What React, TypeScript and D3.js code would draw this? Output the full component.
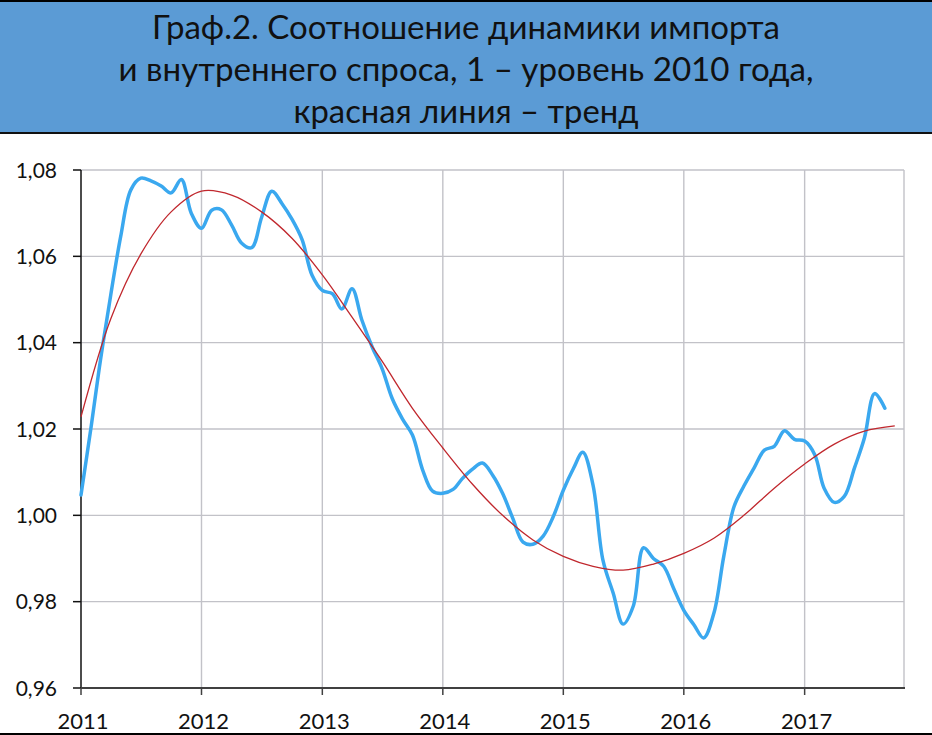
import * as d3 from "d3";

// monthly ratio, Jan 2011 .. Sep 2017 (1 = level of 2010)
const importDemandRatio = [
  1.0047, 1.0207, 1.036, 1.051, 1.0645, 1.0754, 1.0781, 1.0775, 1.0763, 1.0747, 1.0778, 1.07,
  1.0665, 1.0707, 1.0708, 1.0673, 1.0631, 1.062, 1.069, 1.0751, 1.0722, 1.0686, 1.0638, 1.0556,
  1.0521, 1.0513, 1.0478, 1.0525, 1.0452, 1.039, 1.034, 1.027, 1.0223, 1.0186, 1.0105, 1.0056,
  1.0051, 1.006, 1.0085, 1.0107, 1.0121, 1.0093, 1.0051, 0.9993, 0.9938, 0.9933, 0.9952, 0.9996,
  1.0058, 1.0109, 1.0146, 1.007, 0.9896, 0.982, 0.9748, 0.979, 0.9925, 0.99, 0.9882, 0.9831,
  0.978, 0.9746, 0.9716, 0.9773, 0.9905, 1.002, 1.0068, 1.011, 1.0151, 1.016, 1.0196, 1.0176,
  1.0172, 1.014, 1.0063, 1.003, 1.0044, 1.011, 1.0179, 1.0282, 1.0248
];

// trend line, read every 3 months from Jan 2011
const trendValues = [
  1.0228, 1.0455, 1.0605, 1.0703, 1.0751, 1.0742, 1.0703, 1.0642, 1.0557, 1.0459,
  1.0357, 1.0248, 1.0156, 1.0072, 1.0, 0.9943, 0.9905, 0.9882, 0.9873, 0.9887,
  0.9912, 0.9947, 1.0, 1.0063, 1.0119, 1.0165, 1.0195, 1.0207
];

const yearTicks = [2011, 2012, 2013, 2014, 2015, 2016, 2017];
const yTicks = [0.96, 0.98, 1.0, 1.02, 1.04, 1.06, 1.08];

const titleLines = [
  "Граф.2. Соотношение динамики импорта",
  "и внутреннего спроса, 1 – уровень 2010 года,",
  "красная линия – тренд"
];

const width = 932;
const height = 735;
const plot = { left: 81, right: 905, top: 170, bottom: 688 };
const font = "Lato, 'Open Sans', sans-serif";

export default function App() {
  const x = d3
    .scaleTime()
    .domain([new Date(2011, 0, 1), new Date(2017, 10, 1)])
    .range([plot.left, plot.right]);
  const y = d3.scaleLinear().domain([0.96, 1.08]).range([plot.bottom, plot.top]);
  const fmt = (v: number) => d3.format(".2f")(v).replace(".", ",");

  const blue: [Date, number][] = importDemandRatio.map((v, i) => [new Date(2011, i, 1), v]);
  const red: [Date, number][] = trendValues.map((v, i) => [new Date(2011, i * 3, 1), v]);

  const line = d3
    .line<[Date, number]>()
    .x((d) => x(d[0]))
    .y((d) => y(d[1]))
    .curve(d3.curveCatmullRom.alpha(0.5));

  const titleWidths = [628, 695, 345];
  const titleBase = [39, 81, 123];

  return (
    <svg
      width={width}
      height={height}
      style={{ position: "absolute", left: 0, top: 0, display: "block", background: "#fff" }}
    >
      <rect x={0} y={0} width={width} height={133} fill="#5b9bd5" />
      <line x1={0} x2={width} y1={1} y2={1} stroke="#000" strokeWidth={2} />
      <line x1={0} x2={width} y1={133} y2={133} stroke="#111" strokeWidth={2} />
      {titleLines.map((t, i) => (
        <text
          key={t}
          x={width / 2}
          y={titleBase[i]}
          textAnchor="middle"
          fontFamily={font}
          fontSize={33}
          fill="#111"
          textLength={titleWidths[i]}
          lengthAdjust="spacingAndGlyphs"
        >
          {t}
        </text>
      ))}

      {/* grid */}
      {yTicks.slice(1).map((t) => (
        <line key={t} x1={plot.left} x2={plot.right - 1} y1={y(t)} y2={y(t)} stroke="#c2c2c8" strokeWidth={1.4} />
      ))}
      {yearTicks.slice(1).map((yr) => (
        <line
          key={yr}
          x1={x(new Date(yr, 0, 1))}
          x2={x(new Date(yr, 0, 1))}
          y1={plot.top}
          y2={plot.bottom}
          stroke="#c2c2c8"
          strokeWidth={1.4}
        />
      ))}
      <line x1={plot.right - 1} x2={plot.right - 1} y1={plot.top} y2={plot.bottom} stroke="#c2c2c8" strokeWidth={1.4} />

      {/* axes */}
      <line x1={plot.left} x2={plot.left} y1={plot.top} y2={plot.bottom} stroke="#111" strokeWidth={1.5} />
      {yTicks.map((t) => (
        <g key={t}>
          <line x1={plot.left - 8} x2={plot.left} y1={y(t)} y2={y(t)} stroke="#111" strokeWidth={1.5} />
          <text x={57} y={y(t) + 7.5} textAnchor="end" fontFamily={font} fontSize={21} fill="#111">
            {fmt(t)}
          </text>
        </g>
      ))}
      <line x1={plot.left} x2={plot.right} y1={plot.bottom} y2={plot.bottom} stroke="#404040" strokeWidth={2} />
      {yearTicks.map((yr) => {
        const px = x(new Date(yr, 0, 1));
        return (
          <g key={yr}>
            <line x1={px} x2={px} y1={plot.bottom} y2={plot.bottom + 7} stroke="#404040" strokeWidth={1.5} />
            <text x={px + 2} y={729} textAnchor="middle" fontFamily={font} fontSize={22} fill="#111">
              {yr}
            </text>
          </g>
        );
      })}

      {/* series */}
      <path d={line(blue) ?? ""} fill="none" stroke="#3aa8ef" strokeWidth={3.5} strokeLinejoin="round" strokeLinecap="round" />
      <path d={line(red) ?? ""} fill="none" stroke="#c0272d" strokeWidth={1.3} />

      <line x1={0} x2={width} y1={734} y2={734} stroke="#000" strokeWidth={2} />
    </svg>
  );
}
